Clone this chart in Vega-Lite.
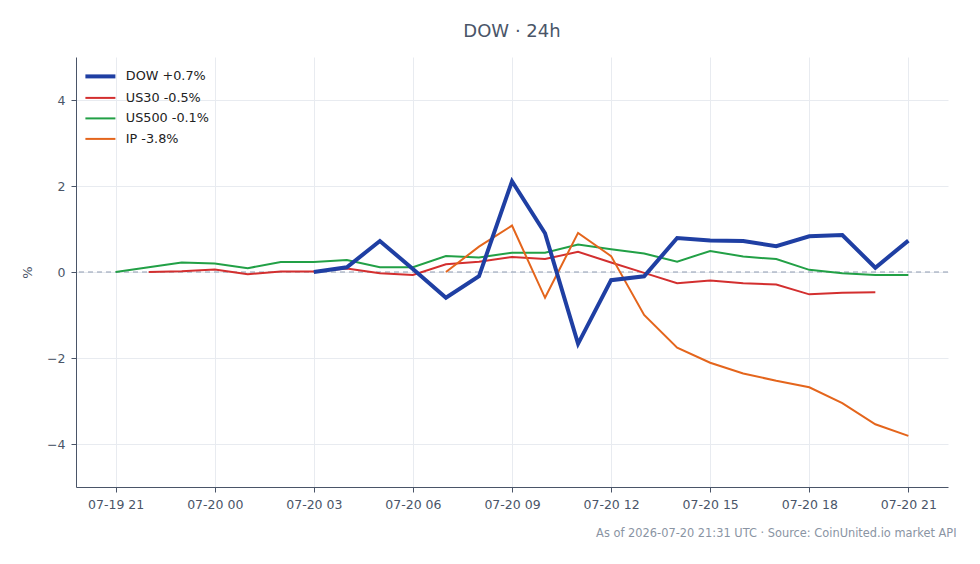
{
  "$schema": "https://vega.github.io/schema/vega-lite/v6.json",
  "width": 872,
  "height": 430,
  "autosize": {"type": "none"},
  "padding": {"left": 76, "top": 57, "right": 32, "bottom": 77},
  "background": "white",
  "title": {
    "text": "DOW · 24h",
    "fontSize": 18,
    "fontWeight": "normal",
    "color": "#4a5568",
    "offset": 16
  },
  "config": {
    "font": "DejaVu Sans",
    "view": {"stroke": null},
    "axis": {
      "labelFont": "DejaVu Sans",
      "titleFont": "DejaVu Sans",
      "labelColor": "#4a5568",
      "titleColor": "#4a5568",
      "domainColor": "#4a5568",
      "tickColor": "#4a5568",
      "gridColor": "#e8ebf0",
      "labelFontSize": 12.5,
      "titleFontWeight": "normal"
    }
  },
  "datasets": {
    "series": [
      {"s": "DOW", "t": "2026-07-20T03:00:00Z", "v": 0.0},
      {"s": "DOW", "t": "2026-07-20T04:00:00Z", "v": 0.11},
      {"s": "DOW", "t": "2026-07-20T05:00:00Z", "v": 0.72},
      {"s": "DOW", "t": "2026-07-20T06:00:00Z", "v": 0.07},
      {"s": "DOW", "t": "2026-07-20T07:00:00Z", "v": -0.6},
      {"s": "DOW", "t": "2026-07-20T08:00:00Z", "v": -0.1},
      {"s": "DOW", "t": "2026-07-20T09:00:00Z", "v": 2.11},
      {"s": "DOW", "t": "2026-07-20T10:00:00Z", "v": 0.9},
      {"s": "DOW", "t": "2026-07-20T11:00:00Z", "v": -1.67},
      {"s": "DOW", "t": "2026-07-20T12:00:00Z", "v": -0.19},
      {"s": "DOW", "t": "2026-07-20T13:00:00Z", "v": -0.1},
      {"s": "DOW", "t": "2026-07-20T14:00:00Z", "v": 0.79},
      {"s": "DOW", "t": "2026-07-20T15:00:00Z", "v": 0.73},
      {"s": "DOW", "t": "2026-07-20T16:00:00Z", "v": 0.72},
      {"s": "DOW", "t": "2026-07-20T17:00:00Z", "v": 0.6},
      {"s": "DOW", "t": "2026-07-20T18:00:00Z", "v": 0.83},
      {"s": "DOW", "t": "2026-07-20T19:00:00Z", "v": 0.86},
      {"s": "DOW", "t": "2026-07-20T20:00:00Z", "v": 0.1},
      {"s": "DOW", "t": "2026-07-20T21:00:00Z", "v": 0.73},

      {"s": "US30", "t": "2026-07-19T22:00:00Z", "v": 0.0},
      {"s": "US30", "t": "2026-07-19T23:00:00Z", "v": 0.02},
      {"s": "US30", "t": "2026-07-20T00:00:00Z", "v": 0.06},
      {"s": "US30", "t": "2026-07-20T01:00:00Z", "v": -0.05},
      {"s": "US30", "t": "2026-07-20T02:00:00Z", "v": 0.01},
      {"s": "US30", "t": "2026-07-20T03:00:00Z", "v": 0.01},
      {"s": "US30", "t": "2026-07-20T04:00:00Z", "v": 0.08},
      {"s": "US30", "t": "2026-07-20T05:00:00Z", "v": -0.03},
      {"s": "US30", "t": "2026-07-20T06:00:00Z", "v": -0.07},
      {"s": "US30", "t": "2026-07-20T07:00:00Z", "v": 0.18},
      {"s": "US30", "t": "2026-07-20T08:00:00Z", "v": 0.24},
      {"s": "US30", "t": "2026-07-20T09:00:00Z", "v": 0.35},
      {"s": "US30", "t": "2026-07-20T10:00:00Z", "v": 0.3},
      {"s": "US30", "t": "2026-07-20T11:00:00Z", "v": 0.47},
      {"s": "US30", "t": "2026-07-20T12:00:00Z", "v": 0.22},
      {"s": "US30", "t": "2026-07-20T13:00:00Z", "v": -0.02},
      {"s": "US30", "t": "2026-07-20T14:00:00Z", "v": -0.26},
      {"s": "US30", "t": "2026-07-20T15:00:00Z", "v": -0.2},
      {"s": "US30", "t": "2026-07-20T16:00:00Z", "v": -0.26},
      {"s": "US30", "t": "2026-07-20T17:00:00Z", "v": -0.29},
      {"s": "US30", "t": "2026-07-20T18:00:00Z", "v": -0.52},
      {"s": "US30", "t": "2026-07-20T19:00:00Z", "v": -0.48},
      {"s": "US30", "t": "2026-07-20T20:00:00Z", "v": -0.47},

      {"s": "US500", "t": "2026-07-19T21:00:00Z", "v": 0.0},
      {"s": "US500", "t": "2026-07-19T22:00:00Z", "v": 0.11},
      {"s": "US500", "t": "2026-07-19T23:00:00Z", "v": 0.22},
      {"s": "US500", "t": "2026-07-20T00:00:00Z", "v": 0.2},
      {"s": "US500", "t": "2026-07-20T01:00:00Z", "v": 0.09},
      {"s": "US500", "t": "2026-07-20T02:00:00Z", "v": 0.23},
      {"s": "US500", "t": "2026-07-20T03:00:00Z", "v": 0.23},
      {"s": "US500", "t": "2026-07-20T04:00:00Z", "v": 0.28},
      {"s": "US500", "t": "2026-07-20T05:00:00Z", "v": 0.11},
      {"s": "US500", "t": "2026-07-20T06:00:00Z", "v": 0.11},
      {"s": "US500", "t": "2026-07-20T07:00:00Z", "v": 0.37},
      {"s": "US500", "t": "2026-07-20T08:00:00Z", "v": 0.34},
      {"s": "US500", "t": "2026-07-20T09:00:00Z", "v": 0.45},
      {"s": "US500", "t": "2026-07-20T10:00:00Z", "v": 0.45},
      {"s": "US500", "t": "2026-07-20T11:00:00Z", "v": 0.64},
      {"s": "US500", "t": "2026-07-20T12:00:00Z", "v": 0.53},
      {"s": "US500", "t": "2026-07-20T13:00:00Z", "v": 0.43},
      {"s": "US500", "t": "2026-07-20T14:00:00Z", "v": 0.24},
      {"s": "US500", "t": "2026-07-20T15:00:00Z", "v": 0.49},
      {"s": "US500", "t": "2026-07-20T16:00:00Z", "v": 0.36},
      {"s": "US500", "t": "2026-07-20T17:00:00Z", "v": 0.3},
      {"s": "US500", "t": "2026-07-20T18:00:00Z", "v": 0.05},
      {"s": "US500", "t": "2026-07-20T19:00:00Z", "v": -0.03},
      {"s": "US500", "t": "2026-07-20T20:00:00Z", "v": -0.07},
      {"s": "US500", "t": "2026-07-20T21:00:00Z", "v": -0.07},

      {"s": "IP", "t": "2026-07-20T07:00:00Z", "v": 0.0},
      {"s": "IP", "t": "2026-07-20T08:00:00Z", "v": 0.59},
      {"s": "IP", "t": "2026-07-20T09:00:00Z", "v": 1.08},
      {"s": "IP", "t": "2026-07-20T10:00:00Z", "v": -0.6},
      {"s": "IP", "t": "2026-07-20T11:00:00Z", "v": 0.91},
      {"s": "IP", "t": "2026-07-20T12:00:00Z", "v": 0.37},
      {"s": "IP", "t": "2026-07-20T13:00:00Z", "v": -1.0},
      {"s": "IP", "t": "2026-07-20T14:00:00Z", "v": -1.76},
      {"s": "IP", "t": "2026-07-20T15:00:00Z", "v": -2.11},
      {"s": "IP", "t": "2026-07-20T16:00:00Z", "v": -2.36},
      {"s": "IP", "t": "2026-07-20T17:00:00Z", "v": -2.53},
      {"s": "IP", "t": "2026-07-20T18:00:00Z", "v": -2.68},
      {"s": "IP", "t": "2026-07-20T19:00:00Z", "v": -3.05},
      {"s": "IP", "t": "2026-07-20T20:00:00Z", "v": -3.54},
      {"s": "IP", "t": "2026-07-20T21:00:00Z", "v": -3.81}
    ],
    "zero": [{"z": 0}]
  },
  "layer": [
    {
      "data": {"name": "zero"},
      "mark": {"type": "rule", "strokeDash": [5, 4], "color": "#8e9bb0", "strokeWidth": 1},
      "encoding": {
        "y": {"field": "z", "type": "quantitative", "title": "%"}
      }
    },
    {
      "data": {"name": "series"},
      "transform": [{"filter": "datum.s !== 'DOW'"}],
      "mark": {"type": "line", "strokeWidth": 2},
      "encoding": {
        "x": {
          "field": "t",
          "type": "temporal",
          "scale": {
            "type": "utc",
            "domain": [1784490480000, 1784585520000]
          },
          "axis": {
            "title": "As of 2026-07-20 21:31 UTC · Source: CoinUnited.io market API",
            "titleFontSize": 11.4,
            "titleColor": "#8a94a3",
            "titleAnchor": "end",
            "titleAlign": "right",
            "titleBaseline": "middle",
            "titleX": 880,
            "titleY": 46,
            "format": "%m-%d %H",
            "values": [1784494800000, 1784505600000, 1784516400000, 1784527200000, 1784538000000, 1784548800000, 1784559600000, 1784570400000, 1784581200000],
            "labelPadding": 6,
            "tickSize": 5,
            "grid": true
          }
        },
        "y": {
          "field": "v",
          "type": "quantitative",
          "title": "%",
          "scale": {"domain": [-5, 5], "nice": false},
          "axis": {
            "title": "%",
            "titleFontSize": 13,
            "titlePadding": 12,
            "values": [-4, -2, 0, 2, 4],
            "tickSize": 5,
            "labelPadding": 6,
            "grid": true
          }
        },
        "color": {
          "field": "s",
          "type": "nominal",
          "scale": {
            "domain": ["DOW", "US30", "US500", "IP"],
            "range": ["#1f3fa3", "#d32f2f", "#22a046", "#e4651c"]
          },
          "legend": {
            "title": null,
            "orient": "none",
            "legendX": 12,
            "legendY": 7,
            "padding": 6,
            "symbolType": "stroke",
            "symbolSize": 900,
            "labelOffset": 19,
            "labelFontSize": 12.8,
            "labelColor": "#222222",
            "labelFont": "DejaVu Sans",
            "rowPadding": 6.5,
            "labelExpr": "datum.label === 'DOW' ? 'DOW +0.7%' : datum.label === 'US30' ? 'US30 -0.5%' : datum.label === 'US500' ? 'US500 -0.1%' : 'IP -3.8%'",
            "encode": {
              "symbols": {
                "update": {
                  "strokeWidth": {"signal": "datum.value === 'DOW' ? 4 : 2"}
                }
              }
            }
          }
        }
      }
    },
    {
      "data": {"name": "series"},
      "transform": [{"filter": "datum.s === 'DOW'"}],
      "mark": {"type": "line", "strokeWidth": 4},
      "encoding": {
        "x": {"field": "t", "type": "temporal"},
        "y": {"field": "v", "type": "quantitative", "title": "%"},
        "color": {"field": "s", "type": "nominal"}
      }
    }
  ]
}
